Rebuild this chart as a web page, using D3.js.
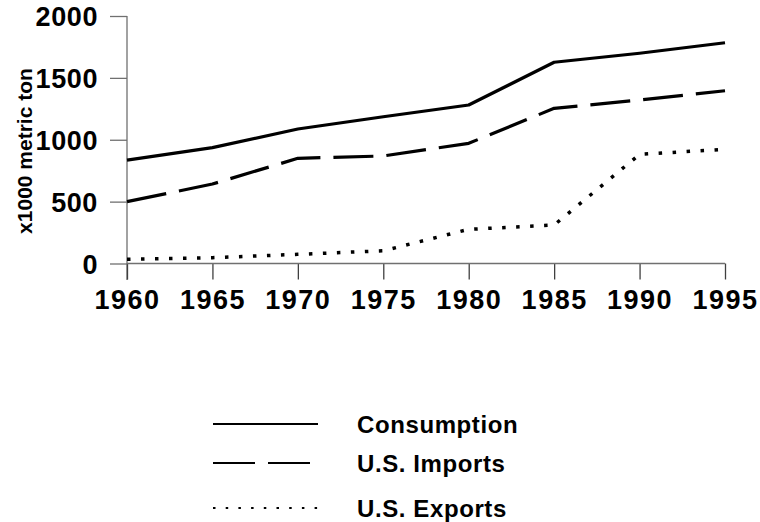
<!DOCTYPE html>
<html><head><meta charset="utf-8">
<script src="https://cdn.jsdelivr.net/npm/d3@7"></script>
<style>body{margin:0;background:#fff}svg{display:block}text{font-family:"Liberation Sans",Arial,sans-serif;font-weight:bold;fill:#000}</style>
</head><body><svg id="c" width="760" height="522"></svg>
<script>
const years = [1960,1965,1970,1975,1980,1985,1990,1995];
const consumption = [836,936,1087,1186,1281,1626,1699,1784];
const imports = [500,642,850,869,971,1254,1321,1396];
const exportsUS = [34,47,74,103,276,311,882,923];
const yTicks = [0,500,1000,1500,2000];
const seriesNames = ["Consumption","U.S. Imports","U.S. Exports"];
const yTitle = "x1000 metric ton";

const svg = d3.select("#c");
const x = d3.scaleLinear().domain([1960,1995]).range([127,725]);
const y = d3.scaleLinear().domain([0,2000]).range([263.5,16]);

// y axis
const ya = svg.append("g").attr("transform","translate(127,0)")
  .call(d3.axisLeft(y).tickValues(yTicks).tickSize(17).tickPadding(12).tickFormat(d3.format("d")));
ya.select(".domain").remove();
ya.append("line").attr("x1",0).attr("x2",0).attr("y1",16).attr("y2",280).attr("stroke","#707070").attr("stroke-width",1.3);
ya.selectAll(".tick line").attr("stroke","#707070").attr("stroke-width",1.3);
ya.selectAll("text").style("font-size","27px").style("letter-spacing","0.6px").attr("dy","0.36em").attr("fill","#000");

// x axis
const xa = svg.append("g").attr("transform","translate(0,263.5)")
  .call(d3.axisBottom(x).tickValues(years).tickSize(16).tickPadding(10).tickFormat(d3.format("d")));
xa.select(".domain").remove();
xa.append("line").attr("x1",127).attr("x2",725).attr("y1",0).attr("y2",0).attr("stroke","#707070").attr("stroke-width",1.3);
xa.selectAll(".tick line").attr("stroke","#404040").attr("stroke-width",1.3);
xa.selectAll("text").style("font-size","27px").style("letter-spacing","1.5px").attr("fill","#000");

svg.append("text").attr("transform","translate(32,151) rotate(-90)").attr("text-anchor","middle")
  .style("font-size","21px").text(yTitle);

const line = d3.line().x((d,i)=>x(years[i])).y(d=>y(d));
const styles = [
  {w:3.2, dash:null},
  {w:3.2, dash:"40,13"},
  {w:3.5, dash:"3.5,10.5"}
];
[consumption, imports, exportsUS].forEach((s,k)=>{
  svg.append("path").datum(s).attr("d",line).attr("fill","none").attr("stroke","#000")
    .attr("stroke-width",styles[k].w).attr("stroke-dasharray",styles[k].dash).attr("stroke-linejoin","round");
});

// legend
const lg = [{y:424},{y:463},{y:508}];
const ldash = [null,"42,13","2.5,10.2"];
seriesNames.forEach((n,k)=>{
  svg.append("line").attr("x1",213).attr("x2",318).attr("y1",lg[k].y).attr("y2",lg[k].y)
    .attr("stroke","#000").attr("stroke-width",2).attr("stroke-dasharray",ldash[k]);
  svg.append("text").attr("x",357).attr("y",lg[k].y+9).style("font-size","24px").style("letter-spacing","0.6px").text(n);
});
</script></body></html>
